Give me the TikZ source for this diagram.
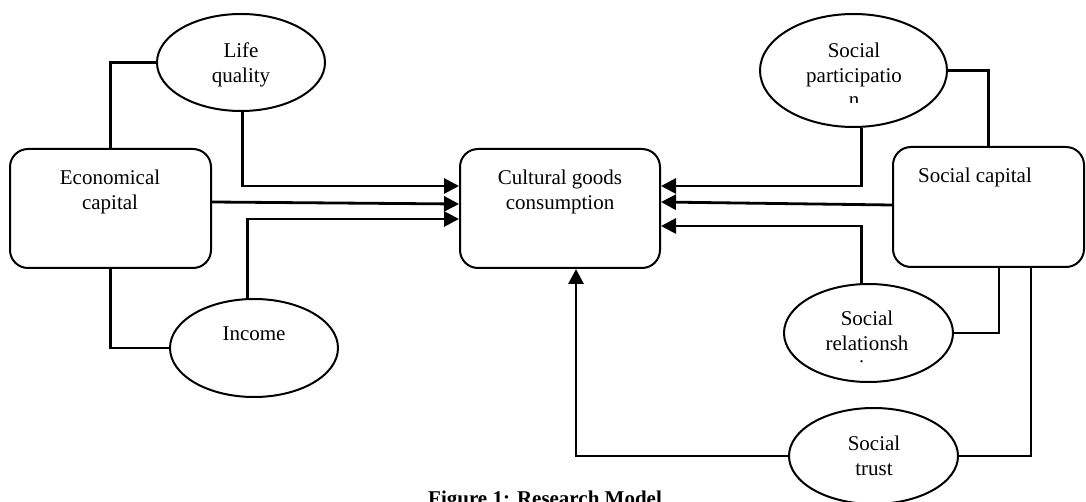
\documentclass[tikz,border=0pt]{standalone}
\usepackage{fontspec}
\setmainfont{Liberation Serif}
\usetikzlibrary{arrows.meta,shapes.geometric}
\tikzset{
  box/.style = {draw, line width=2pt, rounded corners=18pt, minimum width=201pt, minimum height=119pt, inner sep=0pt},
  oval/.style = {draw, ellipse, line width=2pt, inner sep=0pt},
  txt/.style = {align=center, inner sep=0pt, anchor=north, font=\fontsize{21}{24.5}\selectfont},
  link/.style = {line width=2.2pt},
  arr/.style = {line width=2.8pt, -{Triangle[length=15pt,width=15pt]}}
}

\begin{document}
\begin{tikzpicture}[x=1pt, y=-1pt]
      \useasboundingbox (0,0) rectangle (1086,502);

      \node[box] (econ) at (110.5,208.5) {};
      \node[box, minimum width=200pt] (cult) at (560,208.5) {};
      \node[box, minimum width=191pt, minimum height=120pt] (soccap) at (988.5,207) {};
      \node[oval, minimum width=168pt, minimum height=97pt] (lifeq) at (241,62.5) {};
      \node[oval, minimum width=187pt, minimum height=113pt] (partic) at (853.5,70.5) {};
      \node[oval, minimum width=168pt, minimum height=98pt] (income) at (254,348) {};
      \node[oval, minimum width=169pt, minimum height=98pt] (relat) at (868.5,333) {};
      \node[oval, minimum width=169pt, minimum height=96pt] (trust) at (873.5,456) {};

      \node[txt] (lifeqtxt) at (241,43) {Life\\quality};
      \node[txt] (econtxt) at (110,170) {Economical\\capital};
      \node[txt] (culttxt) at (560,170) {Cultural goods\\consumption};
      \node[txt] (soccaptxt) at (975,168) {Social capital};
      \node[txt] (incometxt) at (254,327) {Income};
      \node[txt] (trusttxt) at (874,436) {Social\\trust};
      \begin{scope}
        \clip (760,14) rectangle (947,103);
        \node[txt] (partictxt) at (854,43) {Social\\participatio\\n};
      \end{scope}
      \begin{scope}
        \clip (784,284) rectangle (953,363);
        \node[txt] (relattxt) at (867,311) {Social\\relationsh\\ip};
      \end{scope}
      \node[txt, font=\fontsize{21}{24.5}\selectfont\bfseries] (caption) at (545,491) {Figure 1: Research Model};

      \draw[link] (lifeq.west) -| (econ.north);
      \draw[link] (econ.south) |- (income.west);
      \draw[arr] (lifeq.-88) |- (cult.west |- 0,186);
      \draw[arr] (econ.east |- 0,202) -- (cult.west |- 0,204);
      \draw[arr] (income.97) |- (cult.west |- 0,219);
      \draw[arr] (partic.-82) |- (cult.east |- 0,186);
      \draw[link] (partic.east) -| (soccap.north);
      \draw[arr] (soccap.west |- 0,205) -- (cult.east |- 0,202);
      \draw[arr] (relat.98) |- (cult.east |- 0,226);
      \draw[link] (soccap.south -| 999,0) |- (relat.east);
      \draw[link] (soccap.south -| 1031,0) |- (trust.east);
      \draw[arr] (trust.west) -| (cult.south -| 576,0);
    \end{tikzpicture}
\end{document}
